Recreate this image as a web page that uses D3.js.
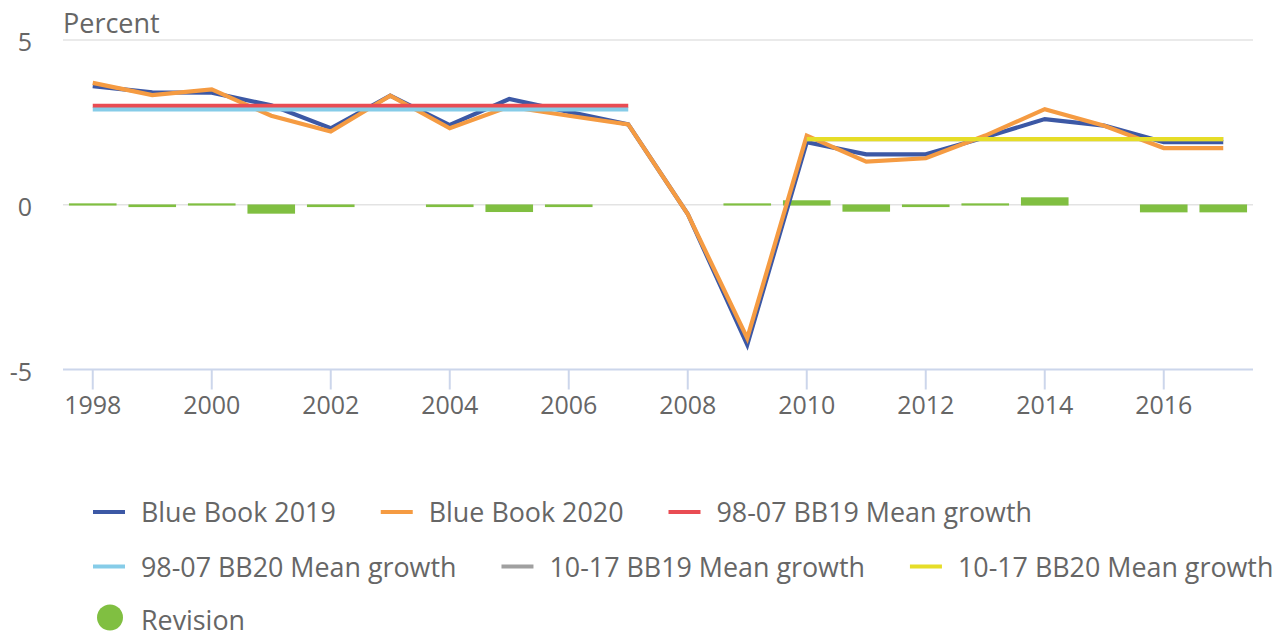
<!DOCTYPE html>
<html>
<head>
<meta charset="utf-8">
<script src="https://cdn.jsdelivr.net/npm/d3@7"></script>
<style>
  html, body { margin: 0; padding: 0; background: #fff; }
  svg { display: block; font-family: "Open Sans", sans-serif; }
</style>
</head>
<body>
<svg id="chart" width="1282" height="632"></svg>
<script>
// ---- Data ----
const years = [1998,1999,2000,2001,2002,2003,2004,2005,2006,2007,2008,2009,2010,2011,2012,2013,2014,2015,2016,2017];
const blueBook2019 = [3.6,3.41,3.4,3.02,2.32,3.31,2.42,3.21,2.82,2.44,-0.28,-4.25,1.9,1.53,1.53,2.05,2.6,2.4,1.9,1.9];
const blueBook2020 = [3.7,3.33,3.5,2.7,2.22,3.31,2.32,2.98,2.7,2.44,-0.28,-4.05,2.1,1.31,1.41,2.1,2.9,2.4,1.72,1.72];
const revision = [0.03,-0.08,0.03,-0.28,-0.08,0,-0.08,-0.23,-0.08,0,0,0.03,0.16,-0.22,-0.08,0.03,0.25,0,-0.24,-0.24];
const meanBB19_98_07 = 3.0;
const meanBB20_98_07 = 2.89;
const meanBB19_10_17 = 1.99;
const meanBB20_10_17 = 1.99;
const yTicks = [-5, 0, 5];
const xTickYears = [1998,2000,2002,2004,2006,2008,2010,2012,2014,2016];
const yTitle = "Percent";
const legendItems = [
  {name: "Blue Book 2019", color: "#3c58a5", type: "line"},
  {name: "Blue Book 2020", color: "#f59b42", type: "line"},
  {name: "98-07 BB19 Mean growth", color: "#e94c53", type: "line"},
  {name: "98-07 BB20 Mean growth", color: "#86cce8", type: "line"},
  {name: "10-17 BB19 Mean growth", color: "#a0a0a0", type: "line"},
  {name: "10-17 BB20 Mean growth", color: "#e6dd28", type: "line"},
  {name: "Revision", color: "#80bf41", type: "circle"}
];
const colors = {
  bb19: "#3c58a5", bb20: "#f59b42", m1: "#e94c53", m2: "#86cce8", m3: "#a0a0a0", m4: "#e6dd28", rev: "#80bf41"
};

// ---- Layout ----
const svg = d3.select("#chart");
const plot = {left: 63, right: 1253, top: 40, bottom: 369.5};

const x = d3.scaleBand().domain(years).range([plot.left, plot.right]).paddingInner(0).paddingOuter(0);
const xc = d => x(d) + x.bandwidth() / 2;
const y = d3.scaleLinear().domain([-5, 5]).range([plot.bottom, plot.top]);

// grid lines
svg.append("g").selectAll("line").data(yTicks.filter(v => v !== -5)).join("line")
  .attr("x1", plot.left).attr("x2", plot.right)
  .attr("y1", d => y(d)).attr("y2", d => y(d))
  .attr("stroke", "#e3e3e3").attr("stroke-width", 1.6);

// y labels
svg.append("g").selectAll("text").data(yTicks).join("text")
  .attr("x", 32).attr("y", d => y(d) + 11)
  .attr("text-anchor", "end")
  .attr("font-size", 25).attr("fill", "#666")
  .text(d => d);

// y title
svg.append("text").attr("x", 63).attr("y", 33)
  .attr("font-size", 27).attr("fill", "#666").text(yTitle);

// x axis
const xAxis = d3.axisBottom(x).tickValues(xTickYears).tickSize(20).tickPadding(3).tickSizeOuter(0);
const gx = svg.append("g").attr("transform", `translate(0,${plot.bottom})`).call(xAxis);
gx.select(".domain").attr("stroke", "#ccd6eb").attr("stroke-width", 2)
  .attr("d", `M${plot.left},0H${plot.right}`);
gx.selectAll(".tick line").attr("stroke", "#ccd6eb").attr("stroke-width", 2);
gx.selectAll(".tick text").attr("font-size", 25).attr("fill", "#666")
  .attr("font-family", "Open Sans, sans-serif").attr("dy", null).attr("y", 44);

// revision bars
const bw = x.bandwidth() * 0.8;
svg.append("g").selectAll("rect").data(years).join("rect")
  .attr("x", (d) => xc(d) - bw / 2)
  .attr("width", bw)
  .attr("y", (d, i) => {
    const h = Math.max(Math.abs(y(revision[i]) - y(0)), 2.2);
    return revision[i] > 0 ? y(0) - h + 0.8 : y(0) - 0.3;
  })
  .attr("height", (d, i) => Math.max(Math.abs(y(revision[i]) - y(0)), 2.2))
  .attr("fill", colors.rev)
  .attr("display", (d, i) => revision[i] === 0 ? "none" : null);

// lines
const line = d3.line().x(d => xc(d[0])).y(d => y(d[1]));
const drawLine = (data, color) => svg.append("path")
  .attr("d", line(data)).attr("fill", "none")
  .attr("stroke", color).attr("stroke-width", 4.2)
  .attr("stroke-linejoin", "miter");

drawLine(years.map((yr, i) => [yr, blueBook2019[i]]), colors.bb19);
drawLine(years.map((yr, i) => [yr, blueBook2020[i]]), colors.bb20);

const firstPeriod = years.filter(v => v >= 1998 && v <= 2007);
const secondPeriod = years.filter(v => v >= 2010 && v <= 2017);
drawLine(firstPeriod.map(v => [v, meanBB19_98_07]), colors.m1);
drawLine(firstPeriod.map(v => [v, meanBB20_98_07]), colors.m2);
drawLine(secondPeriod.map(v => [v, meanBB19_10_17]), colors.m3);
drawLine(secondPeriod.map(v => [v, meanBB20_10_17]), colors.m4);

// legend (flow layout)
const lg = svg.append("g");
let lx = 93, row = 0;
const rowBase = [522, 576.5, 629.5];
const maxX = 1290;
legendItems.forEach(item => {
  const t = lg.append("text").attr("font-size", 26.85).attr("fill", "#666").text(item.name);
  const tw = t.node().getComputedTextLength();
  const w = 48 + tw;
  if (lx + w > maxX) { row++; lx = 93; }
  const base = rowBase[row];
  t.attr("x", lx + 48).attr("y", base);
  if (item.type === "line") {
    lg.append("line").attr("x1", lx).attr("x2", lx + 32)
      .attr("y1", base - 10).attr("y2", base - 10)
      .attr("stroke", item.color).attr("stroke-width", 4);
  } else {
    lg.append("circle").attr("cx", lx + 17).attr("cy", base - 12).attr("r", 13)
      .attr("fill", item.color);
  }
  lx += w + 45;
});
</script>
</body>
</html>
